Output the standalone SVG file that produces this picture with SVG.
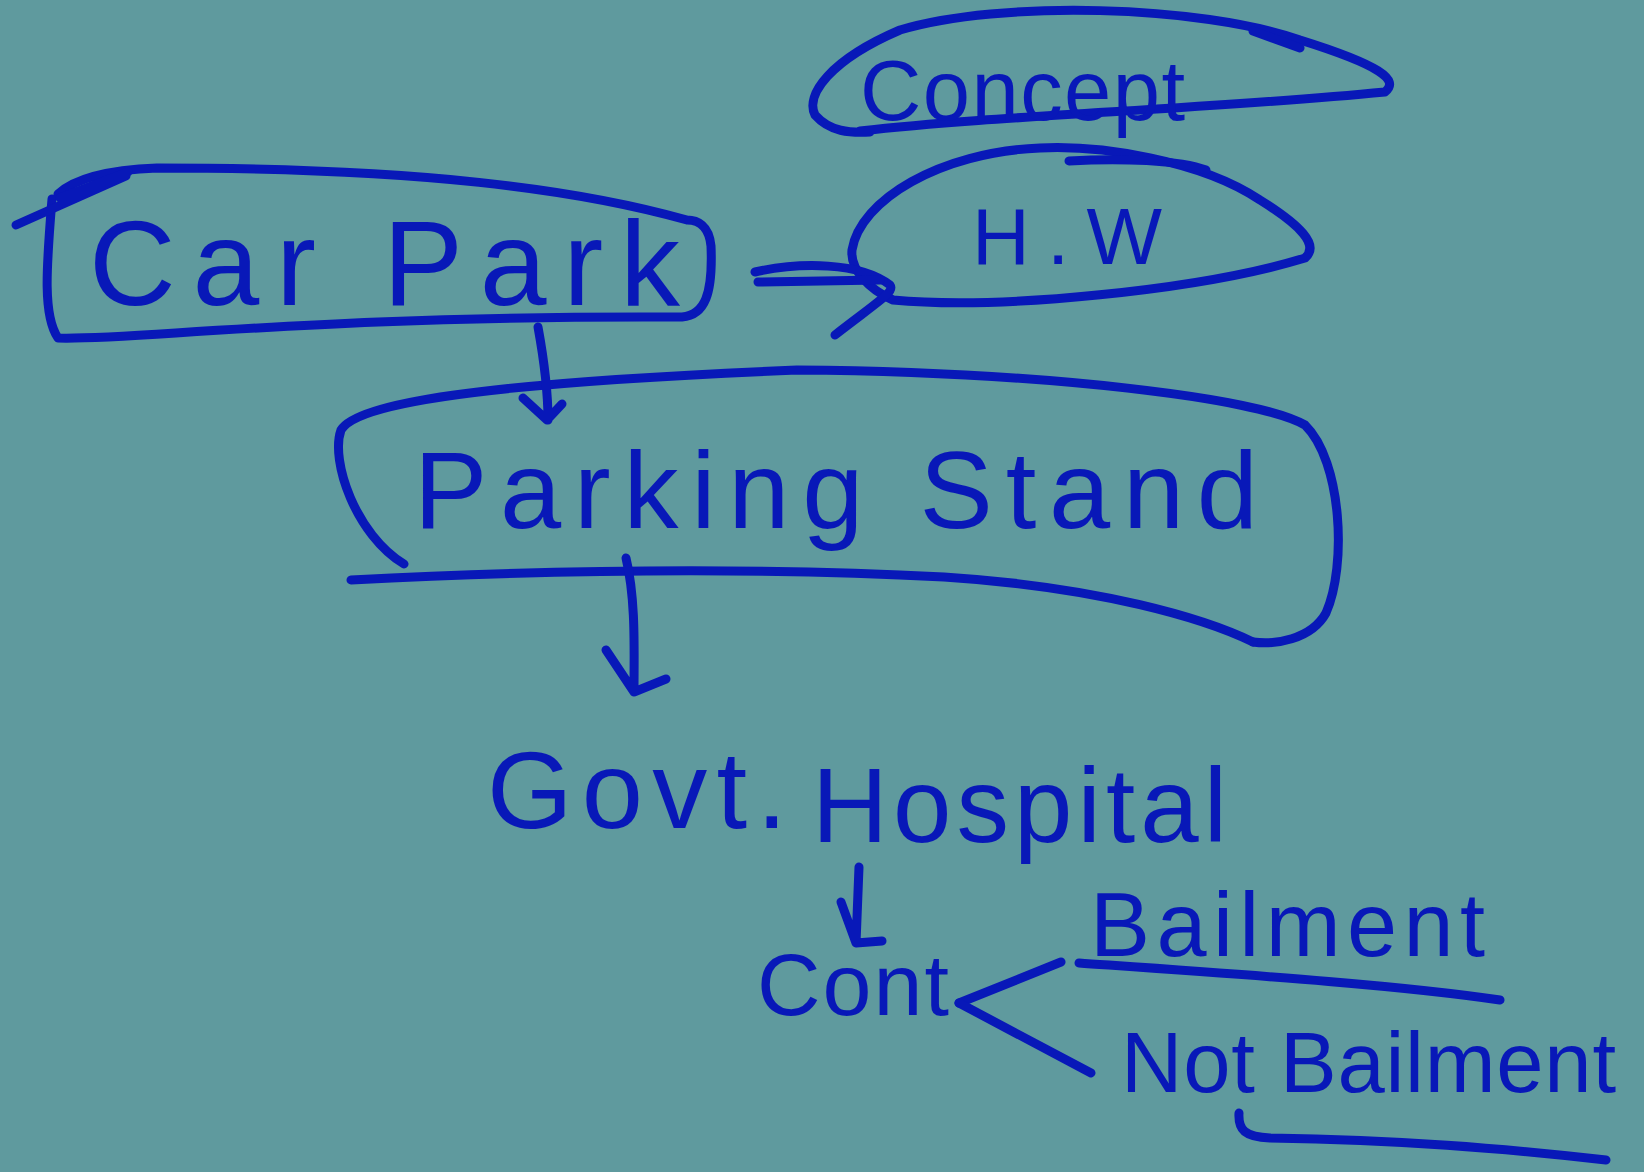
<svg xmlns="http://www.w3.org/2000/svg" width="1644" height="1172" viewBox="0 0 1644 1172">
<style>
.ink{fill:none;stroke:#0818B8;stroke-width:9;stroke-linecap:round;stroke-linejoin:round}
.t{font-family:"Liberation Sans","DejaVu Sans",sans-serif;fill:#0818B8}
</style>
<rect width="1644" height="1172" fill="#5F9A9E"/>
<g id="concept">
<path class="ink" d="M 860 131 C 1000 115, 1200 110, 1385 92 C 1400 80, 1380 65, 1300 40 C 1200 5, 1000 0, 900 30 C 830 60, 805 95, 815 115 C 830 132, 850 133, 870 132"/>
<path class="ink" d="M 1253 31 L 1300 48"/>
<text class="t" x="860" y="120" font-size="85" textLength="325" lengthAdjust="spacing">Concept</text>
</g>
<g id="hw">
<path class="ink" d="M 893 300 C 1000 310, 1200 290, 1305 258 C 1320 245, 1300 225, 1260 200 C 1200 160, 1100 145, 1040 148 C 940 152, 860 200, 852 250 C 850 270, 870 290, 893 300"/>
<path class="ink" d="M 1069 161 C 1120 158, 1180 160, 1206 170"/>
<text class="t" x="972" y="264" font-size="80" textLength="190" lengthAdjust="spacing">H.W</text>
</g>
<g id="carpark">
<path class="ink" d="M 52 199 C 47 262, 42 315, 58 338 C 126 341, 315 315, 682 317 C 705 315, 713 294, 711 246 C 709 225, 697 220, 687 220 C 577 189, 419 168, 157 168 C 105 170, 73 180, 58 194"/>
<path class="ink" d="M 16 225 L 126 176 M 60 198 L 128 172"/>
<text class="t" x="89" y="305" font-size="120" textLength="591" lengthAdjust="spacing">Car Park</text>
</g>
<g id="parkingstand">
<path class="ink" d="M 404 564 C 356 535, 330 461, 341 430 C 356 404, 472 383, 797 370 C 1048 372, 1258 398, 1305 425 C 1342 461, 1347 566, 1326 613 C 1311 640, 1274 645, 1253 642"/>
<path class="ink" d="M 351 580 C 524 571, 734 566, 944 577 C 1101 587, 1206 619, 1253 642"/>
<text class="t" x="414" y="528" font-size="110" textLength="844" lengthAdjust="spacing">Parking Stand</text>
</g>
<g id="govt">
<text class="t" x="487" y="828" font-size="110" textLength="300" lengthAdjust="spacing">Govt.</text>
<text class="t" x="812" y="842" font-size="105" textLength="415" lengthAdjust="spacing">Hospital</text>
</g>
<g id="cont">
<text class="t" x="757" y="1015" font-size="88" textLength="192" lengthAdjust="spacing">Cont</text>
</g>
<g id="bailment">
<text class="t" x="1090" y="956" font-size="90" textLength="395" lengthAdjust="spacing">Bailment</text>
<path class="ink" d="M 1079 963 C 1250 975, 1400 985, 1500 1000"/>
</g>
<g id="notbailment">
<text class="t" x="1121" y="1092" font-size="85" textLength="495" lengthAdjust="spacing">Not Bailment</text>
<path class="ink" d="M 1239 1113 C 1238 1130, 1245 1137, 1270 1138 C 1400 1140, 1500 1148, 1606 1160"/>
</g>
<g id="connectors">
<path class="ink" d="M 755 272 C 800 262, 860 262, 890 285 C 895 292, 880 300, 835 335"/>
<path class="ink" d="M 758 282 L 880 280"/>
<path class="ink" d="M 538 327 C 544 360, 548 395, 548 420 M 523 398 L 547 420 L 562 404"/>
<path class="ink" d="M 626 558 C 636 600, 634 650, 634 692 M 606 650 L 634 692 L 666 679"/>
<path class="ink" d="M 859 867 L 856 943 L 882 941 M 841 902 L 856 943"/>
<path class="ink" d="M 959 1003 L 1061 962"/>
<path class="ink" d="M 959 1003 L 1091 1073"/>
</g>
</svg>
